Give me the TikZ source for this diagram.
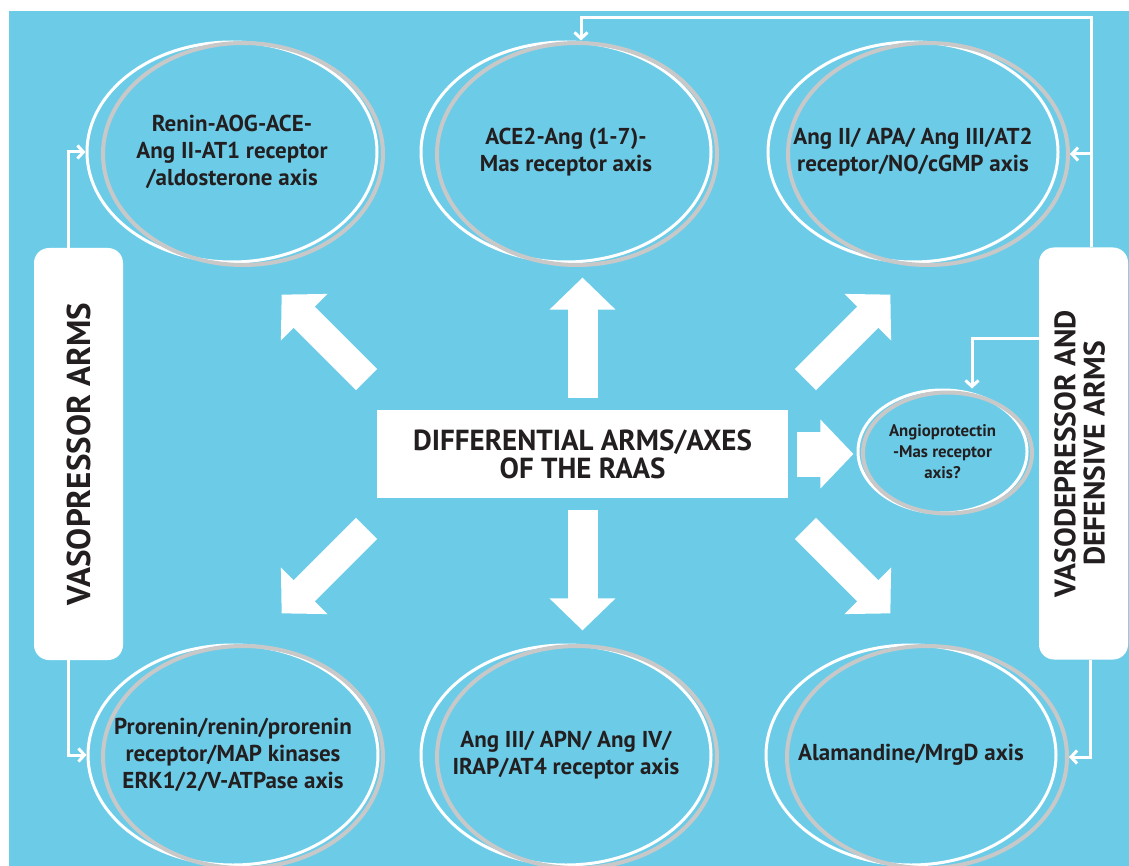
\documentclass[tikz,border=0pt]{standalone}
\usepackage{fontspec}
\setmainfont{PT Sans}
\usepackage{graphicx}
\usetikzlibrary{calc,shapes.geometric,arrows.meta}

\definecolor{raasblue}{RGB}{108,204,232}
\definecolor{ringgray}{RGB}{200,200,200}
\definecolor{inkdark}{RGB}{35,31,32}

\tikzset{
  axisnode/.style={ellipse,draw=white,line width=1.5pt,inner xsep=-16pt,inner ysep=0pt,
    minimum width=145pt,minimum height=110pt,align=center,text=inkdark,
    font=\fontsize{11.5}{13.4}\selectfont\bfseries},
  axisring/.style={ellipse,draw=ringgray,line width=2pt,inner sep=0pt,
    minimum width=140pt,minimum height=111pt},
  sidebox/.style={rectangle,rounded corners=7.5pt,fill=white,inner sep=0pt,
    minimum width=44.5pt,minimum height=206pt,text=inkdark,align=center},
  link/.style={draw=white,line width=1.5pt,-{Straight Barb[length=3pt,width=6.5pt]}},
  bigarrow/.style={draw=white,line width=15pt,-{Triangle[width=32pt,length=16pt]}}
}

\begin{document}
\begin{tikzpicture}[x=0.5pt,y=-0.5pt]
			\useasboundingbox (0,0) rectangle (1129,866);
			\fill[raasblue] (9,11) rectangle (1129,866);
			% centre box
			\node[fill=white,inner sep=0pt,minimum width=205.5pt,minimum height=44pt,align=center,text=inkdark,
				font=\fontsize{14.5}{14}\selectfont\bfseries] (raas) at (582.5,454) {DIFFERENTIAL ARMS/AXES\\OF THE RAAS};
			% the six axes, white ring first, grey ring on top
			\node[axisnode] (renin) at (232,152) {Renin-AOG-ACE-\\Ang II-AT1 receptor\\/aldosterone axis};
			\node[axisring] (renin-r) at (243,154) {};
			\node[axisnode] (ace) at (566,152) {ACE2-Ang (1-7)-\\Mas receptor axis};
			\node[axisring] (ace-r) at (577,154) {};
			\node[axisnode] (angii) at (913,152) {Ang II/ APA/ Ang III/AT2\\receptor/NO/cGMP axis};
			\node[axisring] (angii-r) at (928,154) {};
			\node[axisnode] (prorenin) at (233,755) {Prorenin/renin/prorenin\\receptor/MAP kinases\\ERK1/2/V-ATPase axis};
			\node[axisring] (prorenin-r) at (243,757) {};
			\node[axisnode] (angiii) at (566,755) {Ang III/ APN/ Ang IV/\\IRAP/AT4 receptor axis};
			\node[axisring] (angiii-r) at (577,757) {};
			\node[axisnode] (alam) at (911,755) {Alamandine/MrgD axis};
			\node[axisring] (alam-r) at (927,757) {};
			\node[axisnode,inner xsep=-8pt,minimum width=84.5pt,minimum height=61.5pt,
				font=\fontsize{8.4}{10.5}\selectfont\bfseries] (angpt) at (942.5,451.5) {Angioprotectin\\-Mas receptor\\axis?};
			\node[axisring,minimum width=84.5pt,minimum height=60.5pt] (angpt-r) at (947.5,453) {};
			% side boxes
			\node[sidebox,font=\fontsize{16.5}{15}\selectfont\bfseries] (vaso) at (78.5,454)
				{\rotatebox{90}{VASOPRESSOR ARMS}};
			\node[sidebox,font=\fontsize{14.8}{13.5}\selectfont\bfseries] (defense) at (1083.5,453.5)
				{\rotatebox{90}{\begin{tabular}{@{}c@{}}VASODEPRESSOR AND\\DEFENSIVE ARMS\end{tabular}}};
			% big arrows out of the centre box
			\draw[bigarrow] ([yshift=6pt]raas.north) -- ++(0,-120);
			\draw[bigarrow] ([yshift=-6pt]raas.south) -- ++(0,120);
			\draw[bigarrow,line width=22.5pt,-{Triangle[width=33.5pt,length=16.5pt]}] ([xshift=4.5pt]raas.east) -- ++(56,0);
			\draw[bigarrow] ([shift={(-5pt,15pt)}]raas.north west) -- ++(-85,-85);
			\draw[bigarrow] ([shift={(8.5pt,15pt)}]raas.north east) -- ++(85,-85);
			\draw[bigarrow] ([shift={(-5pt,-15pt)}]raas.south west) -- ++(-85,85);
			\draw[bigarrow] ([shift={(8.5pt,-15pt)}]raas.south east) -- ++(85,85);
			% thin links from the side boxes
			\coordinate (topR) at (1091,18);
			\coordinate (topL) at (581,18);
			\coordinate (angturn) at (972,338);
			\draw[link] ([xshift=-5.25pt]vaso.north) |- (renin.west);
			\draw[link] ([xshift=-5.25pt]vaso.south) |- (prorenin.west);
			\draw[link] ([xshift=3.75pt]defense.north) -- (topR) -- (topL) -- ([xshift=7.5pt]ace.north);
			\draw[link] (topR |- angii-r.east) -- (angii-r.east);
			\draw[link] (defense.west |- angturn) -- (angturn) -- (angturn |- angpt.north);
			\draw[link] ([xshift=3.25pt]defense.south) |- (alam-r.east);
		\end{tikzpicture}
\end{document}
